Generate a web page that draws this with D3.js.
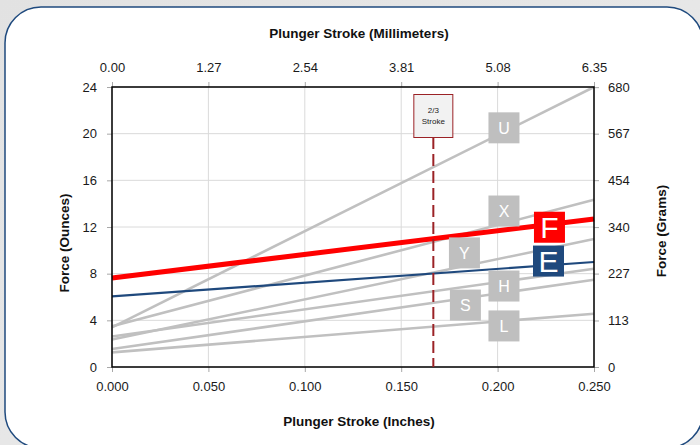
<!DOCTYPE html>
<html><head><meta charset="utf-8">
<script src="https://cdn.jsdelivr.net/npm/d3@7/dist/d3.min.js"></script>
<style>html,body{margin:0;padding:0;background:#e8e8e8;}svg{display:block;font-family:"Liberation Sans",Arial,sans-serif;}</style>
</head><body>
<svg id="c" width="700" height="445"></svg>
<script>
// ---- data ----
const strokeInches = [0, 0.25];
const seriesNames = ["U", "X", "Y", "H", "S", "L", "E", "F"];
const seriesStart = [3.4, 3.5, 2.35, 2.62, 1.54, 1.25, 6.05, 7.63];
const seriesEnd   = [24.0, 14.34, 10.97, 8.42, 7.48, 4.57, 9.0, 12.68];
const labelX = [0.2033, 0.2033, 0.1828, 0.2033, 0.1833, 0.2033, 0.2264, 0.2269];
const labelY = [20.5, 13.37, 9.78, 6.94, 5.31, 3.52, 9.08, 11.98];
const inchTicks = [0, 0.05, 0.10, 0.15, 0.20, 0.25];
const mmTicks = [0, 1.27, 2.54, 3.81, 5.08, 6.35];
const ounceTicks = [0, 4, 8, 12, 16, 20, 24];
const gramTicks = [0, 113, 227, 340, 454, 567, 680];
const markerStroke = 0.25 * 2 / 3;

const svg = d3.select("#c");
const L = 112, R = 594, T = 87, B = 367;
const x = d3.scaleLinear([0, 0.25], [L, R]);
const xmm = d3.scaleLinear([0, 6.35], [L, R]);
const y = d3.scaleLinear([0, 24], [B, T]);
const yg = d3.scaleLinear([0, 680.4], [B, T]);

// background gradient + card
const defs = svg.append("defs");
const g0 = defs.append("linearGradient").attr("id","bg").attr("x1",0).attr("y1",0).attr("x2",1).attr("y2",1);
g0.append("stop").attr("offset","0%").attr("stop-color","#e2e2e2");
g0.append("stop").attr("offset","100%").attr("stop-color","#ececec");
svg.append("rect").attr("width",700).attr("height",445).attr("fill","url(#bg)");
svg.append("rect").attr("x",5).attr("y",7).attr("width",698).attr("height",441).attr("rx",36)
  .attr("fill","#fff").attr("stroke","#1f4a7e").attr("stroke-width",1.5);

// grid
svg.append("g").selectAll("line").data(inchTicks).join("line")
  .attr("x1",d=>x(d)).attr("x2",d=>x(d)).attr("y1",T).attr("y2",B)
  .attr("stroke","#dadada").attr("stroke-width",1);
svg.append("g").selectAll("line").data(ounceTicks).join("line")
  .attr("x1",L).attr("x2",R).attr("y1",d=>y(d)).attr("y2",d=>y(d))
  .attr("stroke","#dadada").attr("stroke-width",1);

// axes
const fmt3 = d3.format(".3f"), fmt2 = d3.format(".2f");
function styleAxis(g){
  g.select(".domain").remove();
  g.selectAll(".tick line").attr("stroke","#a8a8a8");
  g.selectAll(".tick text").attr("fill","#1a1a1a").style("font-size","13px");
}
svg.append("g").attr("transform",`translate(0,${B})`)
  .call(d3.axisBottom(x).tickValues(inchTicks).tickFormat(fmt3).tickSize(5).tickPadding(10)).call(styleAxis);
svg.append("g").attr("transform",`translate(0,${T})`)
  .call(d3.axisTop(xmm).tickValues(mmTicks).tickFormat(fmt2).tickSize(5).tickPadding(10)).call(styleAxis);
svg.append("g").attr("transform",`translate(${L},0)`)
  .call(d3.axisLeft(y).tickValues(ounceTicks).tickFormat(d3.format("d")).tickSize(5).tickPadding(10)).call(styleAxis);
svg.append("g").attr("transform",`translate(${R},0)`)
  .call(d3.axisRight(yg).tickValues(gramTicks).tickFormat(d3.format("d")).tickSize(5).tickPadding(9)).call(styleAxis);

// titles
const tstyle = s => s.attr("font-weight","bold").style("font-size","13.5px").attr("fill","#111").attr("text-anchor","middle");
svg.append("text").attr("x",359).attr("y",38).text("Plunger Stroke (Millimeters)").call(tstyle);
svg.append("text").attr("x",359).attr("y",426).text("Plunger Stroke (Inches)").call(tstyle);
svg.append("text").attr("transform","translate(69,243) rotate(-90)").text("Force (Ounces)").call(tstyle);
svg.append("text").attr("transform","translate(666,231) rotate(-90)").text("Force (Grams)").call(tstyle);

// lines
const series = seriesNames.map((n,i)=>({name:n, pts:[[strokeInches[0],seriesStart[i]],[strokeInches[1],seriesEnd[i]]], lx:labelX[i], ly:labelY[i]}));
const colorOf = n => n==="F" ? "#ff0000" : n==="E" ? "#1f497d" : "#c0c0c0";
const widthOf = n => n==="F" ? 5 : n==="E" ? 2.2 : 2.6;
const line = d3.line().x(d=>x(d[0])).y(d=>y(d[1]));
svg.append("g").selectAll("path").data(series).join("path")
  .attr("d",d=>line(d.pts)).attr("fill","none")
  .attr("stroke",d=>colorOf(d.name)).attr("stroke-width",d=>widthOf(d.name));

// plot border
svg.append("rect").attr("x",L).attr("y",T).attr("width",R-L).attr("height",B-T)
  .attr("fill","none").attr("stroke","#000").attr("stroke-width",1.5);

// 2/3 stroke marker
const mx = x(markerStroke);
svg.append("line").attr("x1",mx).attr("x2",mx).attr("y1",137).attr("y2",B)
  .attr("stroke","#9b2226").attr("stroke-width",2).attr("stroke-dasharray","12,5");
svg.append("rect").attr("x",mx-19.5).attr("y",94.5).attr("width",39).attr("height",43)
  .attr("fill","#f2f2f2").attr("stroke","#9b2226").attr("stroke-width",1);
svg.append("text").attr("x",mx).attr("y",113).attr("text-anchor","middle").style("font-size","8px").attr("fill","#222").text("2/3");
svg.append("text").attr("x",mx).attr("y",123.5).attr("text-anchor","middle").style("font-size","8px").attr("fill","#222").text("Stroke");

// label boxes
const lab = svg.append("g").selectAll("g").data(series).join("g")
  .attr("transform",d=>`translate(${x(d.lx)},${y(d.ly)})`);
lab.append("rect").attr("x",-15.5).attr("y",-15.5).attr("width",31).attr("height",31)
  .attr("fill",d=>d.name==="F" ? "#ff0000" : d.name==="E" ? "#1f497d" : "#bfbfbf");
lab.append("text").attr("text-anchor","middle")
  .attr("y",d=>(d.name==="F"||d.name==="E") ? 11 : 6)
  .style("font-size",d=>(d.name==="F"||d.name==="E") ? "30px" : "16px")
  .attr("fill","#fff").text(d=>d.name);
</script>
</body></html>
